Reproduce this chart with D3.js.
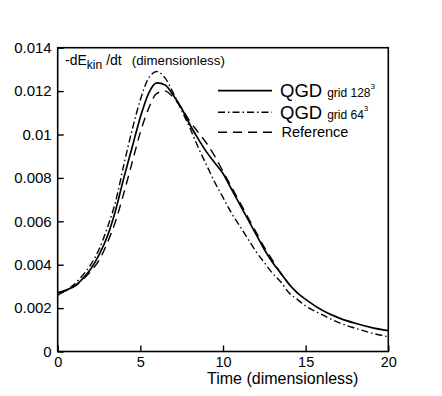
<!DOCTYPE html>
<html><head><meta charset="utf-8">
<script src="https://cdn.jsdelivr.net/npm/d3@7"></script>
<style>
html,body{margin:0;padding:0;background:#fff;}
svg{display:block;font-family:"Liberation Sans",Arial,sans-serif;}
</style></head>
<body><svg id="c" width="442" height="396"></svg>
<script>
// ---- data ----
const time = [0,0.5,1,1.5,2,2.5,3,3.5,4,4.5,5,5.5,6,6.5,7,7.5,8,8.5,9,9.5,10,10.5,11,11.5,12,12.5,13,13.5,14,14.5,15,16,17,18,19,20];
const qgd128 = [0.0027,0.00283,0.0030,0.00335,0.0038,0.00445,0.0053,0.0065,0.0080,0.0094,0.0108,0.0119,0.01238,0.01228,0.0118,0.0112,0.01045,0.0098,0.0092,0.0087,0.0082,0.0075,0.0068,0.0061,0.0054,0.0047,0.0041,0.0036,0.0031,0.0027,0.0024,0.0019,0.00155,0.0013,0.0011,0.00096];
const qgd64  = [0.0026,0.0028,0.0031,0.0035,0.0040,0.0047,0.0057,0.0069,0.0086,0.0102,0.0116,0.0126,0.0129,0.0126,0.0119,0.0111,0.0103,0.0094,0.0086,0.0078,0.0071,0.0064,0.0058,0.0052,0.0046,0.0041,0.0036,0.0032,0.0027,0.0024,0.0021,0.0017,0.00133,0.00107,0.00085,0.00068];
const refTime = [0,0.5,1,1.5,2,2.5,3,3.5,4,4.5,5,5.5,6,6.5,7,7.5,8,8.5,9,9.5,10,10.5,11,11.5,12,12.5,13,13.5,14,14.5];
const reference = [0.0027,0.0028,0.0030,0.0033,0.0037,0.0042,0.0050,0.0060,0.0073,0.0087,0.0101,0.0112,0.0119,0.0120,0.0117,0.0112,0.0106,0.0101,0.0096,0.0090,0.0083,0.0076,0.0069,0.0062,0.0055,0.0048,0.0042,0.0036,0.0031,0.0027];
const xTicks = [0,5,10,15,20];
const yTicks = [0,0.002,0.004,0.006,0.008,0.01,0.012,0.014];
const yTickLabels = ["0","0.002","0.004","0.006","0.008","0.01","0.012","0.014"];

const svg = d3.select("#c");
const L=57.7,R=388.3,T=47.7,B=351.5;
const x = d3.scaleLinear().domain([0,20]).range([L,R]);
const y = d3.scaleLinear().domain([0,0.014]).range([B,T]);

// frame
svg.append("rect").attr("x",L).attr("y",T).attr("width",R-L).attr("height",B-T)
  .attr("fill","none").attr("stroke","#000").attr("stroke-width",1.6);

// axes
const xa = svg.append("g").attr("transform",`translate(0,${B})`)
  .call(d3.axisBottom(x).tickValues(xTicks).tickSizeInner(-6).tickSizeOuter(0).tickPadding(5).tickFormat(d3.format("d")));
const ya = svg.append("g").attr("transform",`translate(${L},0)`)
  .call(d3.axisLeft(y).tickValues(yTicks).tickSizeInner(-6).tickSizeOuter(0).tickPadding(6).tickFormat((d,i)=>yTickLabels[i]));
[xa,ya].forEach(a=>{
  a.select(".domain").remove();
  a.selectAll("line").attr("stroke","#000").attr("stroke-width",1.4);
  a.selectAll("text").attr("font-size",15).attr("fill","#000").attr("font-family","Liberation Sans, Arial, sans-serif");
});
xa.selectAll("text").attr("font-size",14.5).attr("dy","0.71em");

// lines
const line = (xs)=>d3.line().x((d,i)=>x(xs[i])).y(d=>y(d)).curve(d3.curveMonotoneX);
svg.append("path").datum(qgd128).attr("d",line(time)).attr("fill","none").attr("stroke","#000").attr("stroke-width",1.7);
svg.append("path").datum(qgd64).attr("d",line(time)).attr("fill","none").attr("stroke","#000").attr("stroke-width",1.4).attr("stroke-dasharray","7,3,1.5,3");
svg.append("path").datum(reference).attr("d",line(refTime)).attr("fill","none").attr("stroke","#000").attr("stroke-width",1.4).attr("stroke-dasharray","9,6");

// y label
const yl = svg.append("text").attr("x",65).attr("y",65).attr("font-size",14).attr("fill","#000");
yl.append("tspan").text("-dE");
yl.append("tspan").attr("dy",3.5).attr("font-size",12).text("kin");
yl.append("tspan").attr("dy",-3.5).attr("dx",4).text("/dt");
yl.append("tspan").attr("dx",10).attr("font-size",13.3).text("(dimensionless)");

// x label
svg.append("text").attr("x",207).attr("y",384).attr("font-size",16).attr("fill","#000").text("Time (dimensionless)");

// legend
const leg = [
  {big:"QGD", small:"grid 128", sup:"3", dash:null, w:1.7, y:90.7},
  {big:"QGD", small:"grid 64", sup:"3", dash:"7,3,1.5,3", w:1.4, y:112.3},
  {big:null, small:null, text:"Reference", dash:"9,6", w:1.4, y:132.3}
];
leg.forEach(e=>{
  svg.append("line").attr("x1",218).attr("x2",272).attr("y1",e.y).attr("y2",e.y)
    .attr("stroke","#000").attr("stroke-width",e.w).attr("stroke-dasharray",e.dash);
  if(e.big){
    const t = svg.append("text").attr("x",280).attr("y",e.y+6.3).attr("font-size",18.5).attr("fill","#000");
    t.append("tspan").text(e.big);
    t.append("tspan").attr("dx",5).attr("font-size",12).text(e.small);
    t.append("tspan").attr("dy",-8).attr("font-size",8).text(e.sup);
  } else {
    svg.append("text").attr("x",281.5).attr("y",e.y+4.6).attr("font-size",14.5).attr("fill","#000").text(e.text);
  }
});
</script></body></html>
